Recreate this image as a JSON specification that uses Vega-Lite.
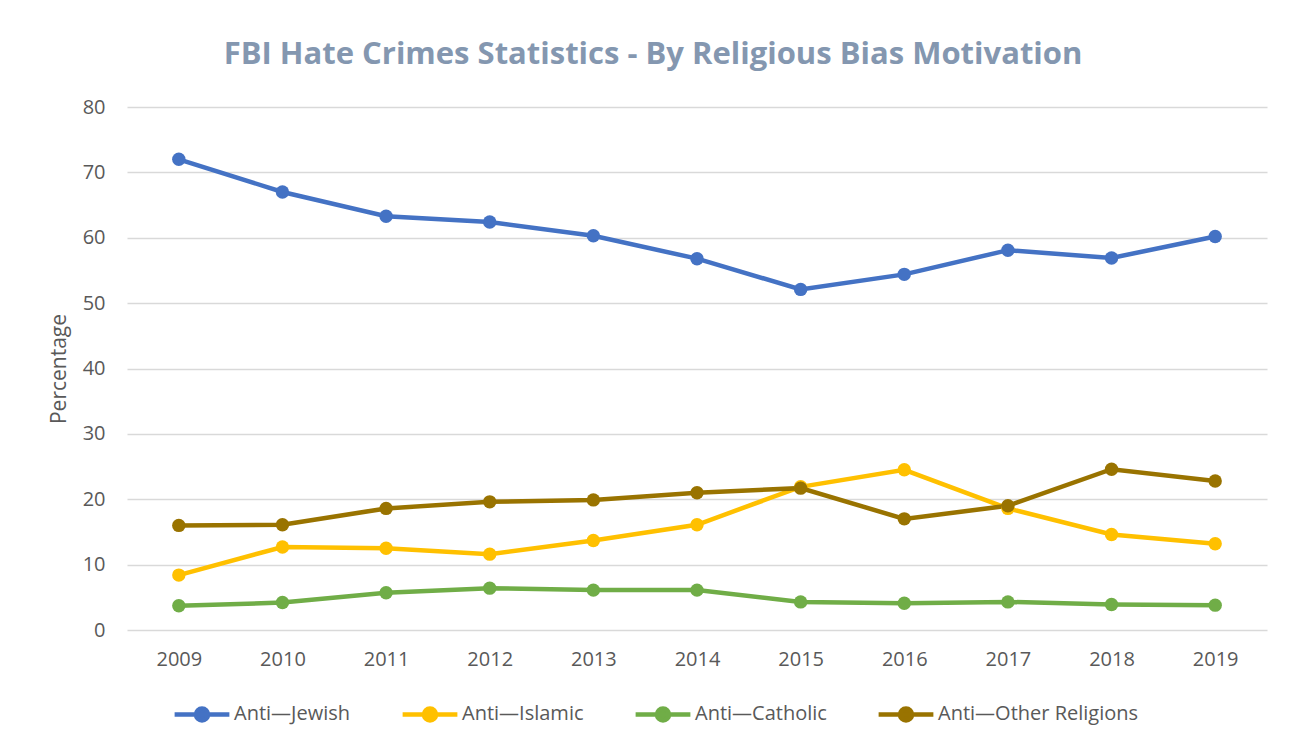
{
  "$schema": "https://vega.github.io/schema/vega-lite/v6.json",
  "width": 1140,
  "height": 523,
  "autosize": {"type": "none"},
  "padding": {"left": 127, "top": 107, "right": 26, "bottom": 118},
  "background": "white",
  "title": {
    "text": "FBI Hate Crimes Statistics - By Religious Bias Motivation",
    "anchor": "middle",
    "dx": -44,
    "offset": 26,
    "font": "Open Sans",
    "fontSize": 31,
    "fontWeight": "bold",
    "color": "#8497B0"
  },
  "config": {
    "view": {"stroke": null},
    "axis": {
      "labelFont": "Open Sans",
      "titleFont": "Open Sans",
      "labelColor": "#595959",
      "titleColor": "#595959",
      "labelFontSize": 20,
      "titleFontSize": 21,
      "titleFontWeight": "normal",
      "gridColor": "#D9D9D9",
      "gridWidth": 1.3,
      "domain": false,
      "ticks": false
    },
    "legend": {
      "labelFont": "Open Sans",
      "labelColor": "#595959",
      "labelFontSize": 20,
      "labelLimit": 400
    }
  },
  "data": {
    "values": [
      {"year": "2009", "series": "Anti—Jewish", "value": 72.0},
      {"year": "2010", "series": "Anti—Jewish", "value": 67.0},
      {"year": "2011", "series": "Anti—Jewish", "value": 63.3},
      {"year": "2012", "series": "Anti—Jewish", "value": 62.4},
      {"year": "2013", "series": "Anti—Jewish", "value": 60.3},
      {"year": "2014", "series": "Anti—Jewish", "value": 56.8},
      {"year": "2015", "series": "Anti—Jewish", "value": 52.1},
      {"year": "2016", "series": "Anti—Jewish", "value": 54.4},
      {"year": "2017", "series": "Anti—Jewish", "value": 58.1},
      {"year": "2018", "series": "Anti—Jewish", "value": 56.9},
      {"year": "2019", "series": "Anti—Jewish", "value": 60.2},
      {"year": "2009", "series": "Anti—Islamic", "value": 8.4},
      {"year": "2010", "series": "Anti—Islamic", "value": 12.7},
      {"year": "2011", "series": "Anti—Islamic", "value": 12.5},
      {"year": "2012", "series": "Anti—Islamic", "value": 11.6},
      {"year": "2013", "series": "Anti—Islamic", "value": 13.7},
      {"year": "2014", "series": "Anti—Islamic", "value": 16.1},
      {"year": "2015", "series": "Anti—Islamic", "value": 21.9},
      {"year": "2016", "series": "Anti—Islamic", "value": 24.5},
      {"year": "2017", "series": "Anti—Islamic", "value": 18.6},
      {"year": "2018", "series": "Anti—Islamic", "value": 14.6},
      {"year": "2019", "series": "Anti—Islamic", "value": 13.2},
      {"year": "2009", "series": "Anti—Catholic", "value": 3.7},
      {"year": "2010", "series": "Anti—Catholic", "value": 4.2},
      {"year": "2011", "series": "Anti—Catholic", "value": 5.7},
      {"year": "2012", "series": "Anti—Catholic", "value": 6.4},
      {"year": "2013", "series": "Anti—Catholic", "value": 6.1},
      {"year": "2014", "series": "Anti—Catholic", "value": 6.1},
      {"year": "2015", "series": "Anti—Catholic", "value": 4.3},
      {"year": "2016", "series": "Anti—Catholic", "value": 4.1},
      {"year": "2017", "series": "Anti—Catholic", "value": 4.3},
      {"year": "2018", "series": "Anti—Catholic", "value": 3.9},
      {"year": "2019", "series": "Anti—Catholic", "value": 3.8},
      {"year": "2009", "series": "Anti—Other Religions", "value": 16.0},
      {"year": "2010", "series": "Anti—Other Religions", "value": 16.1},
      {"year": "2011", "series": "Anti—Other Religions", "value": 18.6},
      {"year": "2012", "series": "Anti—Other Religions", "value": 19.6},
      {"year": "2013", "series": "Anti—Other Religions", "value": 19.9},
      {"year": "2014", "series": "Anti—Other Religions", "value": 21.0},
      {"year": "2015", "series": "Anti—Other Religions", "value": 21.7},
      {"year": "2016", "series": "Anti—Other Religions", "value": 17.0},
      {"year": "2017", "series": "Anti—Other Religions", "value": 19.0},
      {"year": "2018", "series": "Anti—Other Religions", "value": 24.6},
      {"year": "2019", "series": "Anti—Other Religions", "value": 22.8}
    ]
  },
  "encoding": {
    "x": {
      "field": "year",
      "type": "ordinal",
      "scale": {"type": "point", "padding": 0.5},
      "axis": {"title": null, "labelAngle": 0, "labelPadding": 19, "grid": false}
    },
    "y": {
      "field": "value",
      "type": "quantitative",
      "scale": {"domain": [0, 80]},
      "axis": {"title": "Percentage", "values": [0, 10, 20, 30, 40, 50, 60, 70, 80], "labelPadding": 22, "titlePadding": 13}
    },
    "color": {
      "field": "series",
      "type": "nominal",
      "sort": ["Anti—Jewish", "Anti—Islamic", "Anti—Catholic", "Anti—Other Religions"],
      "scale": {
        "domain": ["Anti—Jewish", "Anti—Islamic", "Anti—Catholic", "Anti—Other Religions"],
        "range": ["#4472C4", "#FFC000", "#70AD47", "#997300"]
      },
      "legend": {
        "title": null,
        "orient": "none",
        "direction": "horizontal",
        "legendX": 45,
        "legendY": 577,
        "symbolType": "M-1,0H1M-0.22,0A0.22,0.22,0,1,1,0.22,0A0.22,0.22,0,1,1,-0.22,0Z",
        "symbolSize": 3000,
        "symbolStrokeWidth": 4.5,
        "symbolOpacity": 1,
        "labelOffset": 2,
        "columnPadding": 42,
        "encode": {
          "symbols": {
            "update": {
              "fill": {"scale": "color", "field": "value"},
              "stroke": {"scale": "color", "field": "value"},
              "opacity": {"value": 1}
            }
          }
        }
      }
    }
  },
  "layer": [
    {"mark": {"type": "line", "strokeWidth": 4.5}},
    {"mark": {"type": "point", "filled": true, "size": 180, "opacity": 1}}
  ]
}
